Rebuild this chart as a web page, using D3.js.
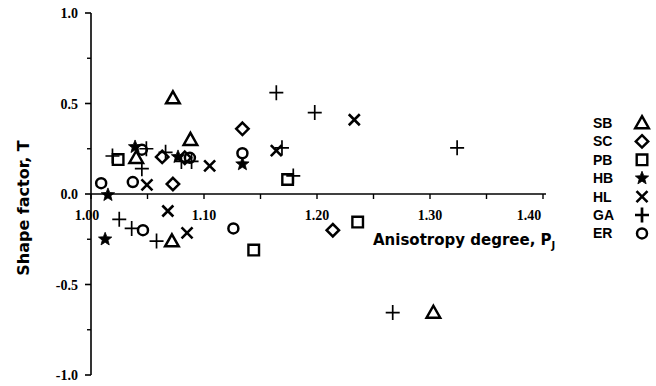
<!DOCTYPE html>
<html>
<head>
<meta charset="utf-8">
<script src="https://cdn.jsdelivr.net/npm/d3@7"></script>
<style>
  html, body { margin: 0; padding: 0; background: #fff; }
  svg { display: block; }
</style>
</head>
<body>
<svg id="chart" width="656" height="386"></svg>
<script>
// Rock fabric data: anisotropy degree P_J vs shape factor T per lithology
const seriesNames = ["SB", "SC", "PB", "HB", "HL", "GA", "ER"];
const sbP = [1.0725, 1.088, 1.040, 1.0716, 1.303];
const sbT = [0.53, 0.30, 0.20, -0.26, -0.655];
const scP = [1.134, 1.0725, 1.063, 1.083, 1.214];
const scT = [0.36, 0.055, 0.205, 0.20, -0.20];
const pbP = [1.024, 1.174, 1.144, 1.236];
const pbT = [0.19, 0.08, -0.31, -0.155];
const hbP = [1.015, 1.0125, 1.039, 1.077, 1.134];
const hbT = [-0.005, -0.25, 0.26, 0.205, 0.165];
const hlP = [1.0495, 1.105, 1.068, 1.085, 1.164, 1.233];
const hlT = [0.05, 0.155, -0.094, -0.215, 0.24, 0.41];
const gaP = [1.019, 1.049, 1.045, 1.066, 1.080, 1.089, 1.169, 1.179, 1.164, 1.198, 1.324, 1.025, 1.036, 1.058, 1.267];
const gaT = [0.21, 0.25, 0.14, 0.23, 0.18, 0.18, 0.255, 0.10, 0.56, 0.45, 0.255, -0.14, -0.19, -0.26, -0.655];
const erP = [1.009, 1.037, 1.045, 1.0875, 1.134, 1.046, 1.126];
const erT = [0.06, 0.066, 0.245, 0.20, 0.225, -0.20, -0.19];

const xTickValues = [1.00, 1.10, 1.20, 1.30, 1.40];
const xMinorValues = [1.05, 1.15, 1.25, 1.35];
const yTickValues = [-1.0, -0.5, 0.0, 0.5, 1.0];
const yMinorValues = [-0.75, -0.25, 0.25, 0.75];

const svg = d3.select("#chart");
const x = d3.scaleLinear().domain([1.0, 1.4]).range([91, 543]);
const y = d3.scaleLinear().domain([-1, 1]).range([375, 13]);

// marker shapes
function sym(drawFn) { return { draw: drawFn }; }
const shapes = {
  SB: { type: sym(c => { c.moveTo(0, -6.8); c.lineTo(6.8, 5.2); c.lineTo(-6.8, 5.2); c.closePath(); }), fill: "none", sw: 2.5 },
  SC: { type: sym(c => { c.moveTo(0, -6.2); c.lineTo(6.2, 0); c.lineTo(0, 6.2); c.lineTo(-6.2, 0); c.closePath(); }), fill: "none", sw: 2.5 },
  PB: { type: sym(c => { c.moveTo(-5.3, -5.3); c.lineTo(5.3, -5.3); c.lineTo(5.3, 5.3); c.lineTo(-5.3, 5.3); c.closePath(); }), fill: "none", sw: 2.4 },
  HB: { type: sym(c => {
        for (let i = 0; i < 10; i++) {
          const r = i % 2 === 0 ? 7 : 3;
          const a = -Math.PI / 2 + i * Math.PI / 5;
          const px = r * Math.cos(a), py = r * Math.sin(a);
          if (i === 0) c.moveTo(px, py); else c.lineTo(px, py);
        }
        c.closePath();
      }), fill: "#000", sw: 0.8 },
  HL: { type: sym(c => { c.moveTo(-5.5, -5.5); c.lineTo(5.5, 5.5); c.moveTo(5.5, -5.5); c.lineTo(-5.5, 5.5); }), fill: "none", sw: 2.6 },
  GA: { type: sym(c => { c.moveTo(-7, 0); c.lineTo(7, 0); c.moveTo(0, -7.5); c.lineTo(0, 7.5); }), fill: "none", sw: 1.7 },
  ER: { type: sym(c => { c.moveTo(5, 0); c.arc(0, 0, 5, 0, 2 * Math.PI); }), fill: "none", sw: 2.5 }
};

const seriesP = { SB: sbP, SC: scP, PB: pbP, HB: hbP, HL: hlP, GA: gaP, ER: erP };
const seriesT = { SB: sbT, SC: scT, PB: pbT, HB: hbT, HL: hlT, GA: gaT, ER: erT };

// x axis through T = 0
const gx = svg.append("g").attr("transform", `translate(0,${y(0)})`);
gx.append("line").attr("x1", x(1.0)).attr("x2", 546).attr("y1", 0).attr("y2", 0)
  .attr("stroke", "#000").attr("stroke-width", 1.6);
gx.selectAll("line.tk").data(xTickValues.concat(xMinorValues)).join("line")
  .attr("class", "tk")
  .attr("x1", d => x(d)).attr("x2", d => x(d)).attr("y1", 0).attr("y2", 5)
  .attr("stroke", "#000").attr("stroke-width", 1.4);
gx.selectAll("text").data(xTickValues).join("text")
  .attr("x", d => x(d) + (d === 1.40 ? -14 : d === 1.00 ? -4 : 0))
  .attr("y", 26)
  .attr("text-anchor", "middle")
  .attr("font-family", "Liberation Serif, Times New Roman, serif")
  .attr("font-weight", "bold")
  .attr("font-size", 14)
  .text(d => d.toFixed(2));

// y axis at P = 1.00
const gy = svg.append("g").attr("transform", `translate(${x(1.0)},0)`);
gy.append("line").attr("x1", 0).attr("x2", 0).attr("y1", y(1)).attr("y2", y(-1))
  .attr("stroke", "#000").attr("stroke-width", 1.6);
gy.selectAll("line.tk").data(yTickValues).join("line")
  .attr("class", "tk")
  .attr("x1", -6).attr("x2", 0).attr("y1", d => y(d)).attr("y2", d => y(d))
  .attr("stroke", "#000").attr("stroke-width", 1.6);
gy.selectAll("line.mn").data(yMinorValues).join("line")
  .attr("class", "mn")
  .attr("x1", -4).attr("x2", 0).attr("y1", d => y(d)).attr("y2", d => y(d))
  .attr("stroke", "#000").attr("stroke-width", 1.4);
gy.selectAll("text").data(yTickValues).join("text")
  .attr("x", -13)
  .attr("y", d => y(d) + 5)
  .attr("text-anchor", "end")
  .attr("font-family", "Liberation Serif, Times New Roman, serif")
  .attr("font-weight", "bold")
  .attr("font-size", 14)
  .text(d => d.toFixed(1));

// axis titles
svg.append("text")
  .attr("transform", `translate(29,208) rotate(-90)`)
  .attr("text-anchor", "middle")
  .attr("font-family", "DejaVu Sans, Verdana, sans-serif")
  .attr("font-weight", "bold")
  .attr("font-size", 16)
  .text("Shape factor, T");

const xt = svg.append("text")
  .attr("x", 373).attr("y", 245)
  .attr("font-family", "DejaVu Sans, Verdana, sans-serif")
  .attr("font-weight", "bold")
  .attr("font-size", 15);
xt.append("tspan").text("Anisotropy degree, P");
xt.append("tspan").attr("dy", 4).attr("font-size", 10).text("J");

// data markers
seriesNames.forEach(name => {
  const sh = shapes[name];
  const pts = seriesP[name].map((p, i) => ({ p, t: seriesT[name][i] }));
  svg.append("g").selectAll("path").data(pts).join("path")
    .attr("transform", d => `translate(${x(d.p)},${y(d.t)})`)
    .attr("d", d3.symbol(sh.type))
    .attr("fill", sh.fill)
    .attr("stroke", "#000")
    .attr("stroke-width", sh.sw)
    .attr("stroke-linejoin", "miter");
});

// legend
const lg = svg.append("g");
seriesNames.forEach((name, i) => {
  const ly = 123 + i * 18.4;
  lg.append("text")
    .attr("x", 593).attr("y", ly + 5)
    .attr("font-family", "Liberation Sans, Arial, sans-serif")
    .attr("font-weight", "bold")
    .attr("font-size", 14)
    .text(name);
  const sh = shapes[name];
  lg.append("path")
    .attr("transform", `translate(642,${ly})`)
    .attr("d", d3.symbol(sh.type))
    .attr("fill", sh.fill)
    .attr("stroke", "#000")
    .attr("stroke-width", sh.sw + (name === "GA" ? 1 : 0));
});
</script>
</body>
</html>
